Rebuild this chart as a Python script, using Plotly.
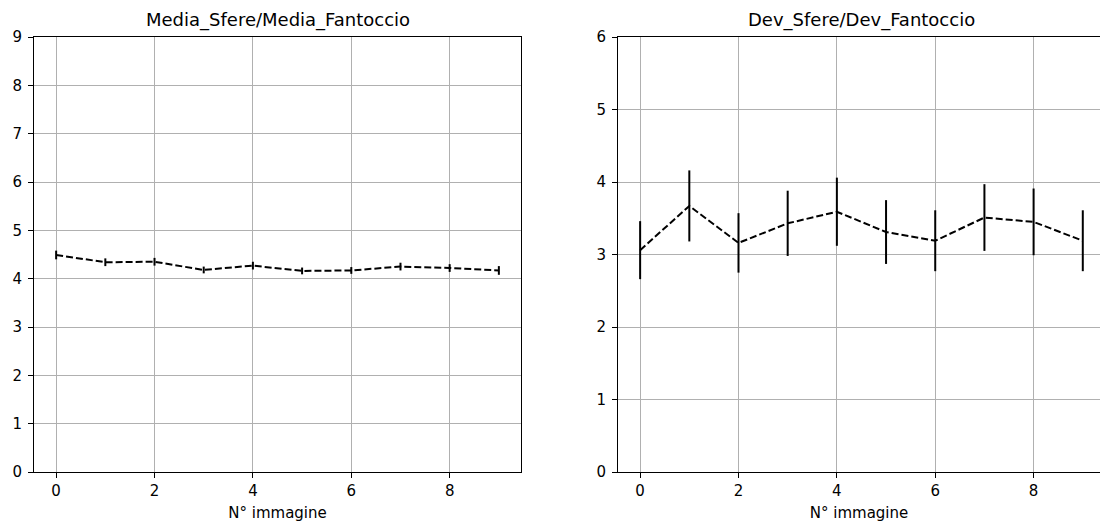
import plotly.graph_objects as go
from plotly.subplots import make_subplots

x_img = [0, 1, 2, 3, 4, 5, 6, 7, 8, 9]
media_ratio = [4.49, 4.34, 4.35, 4.18, 4.27, 4.16, 4.17, 4.25, 4.22, 4.17]
media_err = [0.09, 0.08, 0.08, 0.07, 0.08, 0.07, 0.07, 0.08, 0.08, 0.09]
dev_ratio = [3.06, 3.67, 3.16, 3.43, 3.59, 3.31, 3.19, 3.51, 3.45, 3.19]
dev_err = [0.40, 0.49, 0.41, 0.45, 0.47, 0.44, 0.42, 0.46, 0.46, 0.42]

titles = ["Media_Sfere/Media_Fantoccio", "Dev_Sfere/Dev_Fantoccio"]
x_label = "N° immagine"

font_family = "DejaVu Sans"

fig = make_subplots(rows=1, cols=2)

for col, (y, e) in enumerate([(media_ratio, media_err), (dev_ratio, dev_err)], start=1):
    fig.add_trace(go.Scatter(
        x=x_img, y=y, mode="lines",
        line=dict(color="black", width=2, dash="7px,3px"),
        error_y=dict(type="data", array=e, visible=True, color="black", thickness=2, width=0),
        showlegend=False,
    ), row=1, col=col)

W, H = 1100, 524
ml, mr, mt, mb = 34, 0, 37, 52
pw = W - ml - mr
left_dom = [0, (521 - ml) / pw]
right_dom = [(618 - ml) / pw, 1]

common_axis = dict(
    showline=True, linecolor="black", linewidth=1,
    ticks="outside", ticklen=5, tickwidth=1, tickcolor="black",
    showgrid=True, gridcolor="#b0b0b0", gridwidth=1,
    zeroline=False,
    tickfont=dict(family=font_family, size=15, color="black"),
)

fig.update_xaxes(**common_axis)
fig.update_yaxes(**common_axis, ticklabelstandoff=3)

fig.update_layout(
    xaxis=dict(domain=left_dom, range=[-0.45, 9.45], tickvals=[0, 2, 4, 6, 8], mirror=True,
               title=dict(text=x_label, font=dict(family=font_family, size=15, color="black"), standoff=8)),
    yaxis=dict(range=[0, 9], tickvals=list(range(10)), mirror=True),
    xaxis2=dict(domain=right_dom, range=[-0.45, 9.35], tickvals=[0, 2, 4, 6, 8], mirror=True,
                title=dict(text=x_label, font=dict(family=font_family, size=15, color="black"), standoff=8)),
    yaxis2=dict(range=[0, 6], tickvals=list(range(7)), mirror=False),
    width=W, height=H,
    margin=dict(l=ml, r=mr, t=mt, b=mb),
    plot_bgcolor="white", paper_bgcolor="white",
    font=dict(family=font_family, size=15, color="black"),
)

for i, t in enumerate(titles):
    dom = left_dom if i == 0 else right_dom
    cx = (dom[0] + dom[1]) / 2 if i == 0 else ((618 - ml) + 487 / 2) / pw
    fig.add_annotation(
        text=t, x=cx, xref="paper", xanchor="center", y=1, yref="paper",
        yanchor="bottom", yshift=4, showarrow=False,
        font=dict(family=font_family, size=18, color="black"),
    )

fig.write_html("out.html")
